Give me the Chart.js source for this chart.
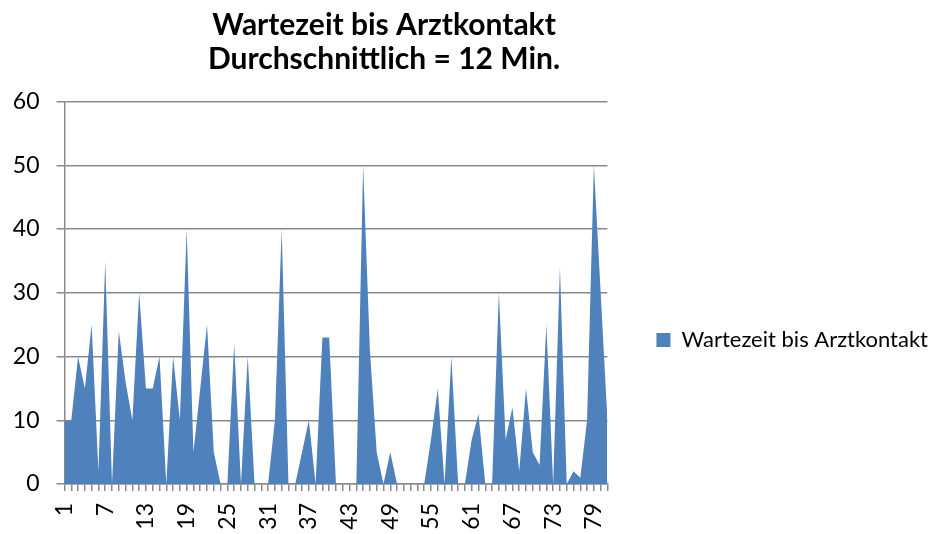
<!DOCTYPE html>
<html>
<head>
<meta charset="utf-8">
<script src="https://cdn.jsdelivr.net/npm/chart.js@4.4.1/dist/chart.umd.min.js"></script>
<style>
  html, body { margin: 0; padding: 0; background: #fff; }
  #wrap { width: 946px; height: 534px; position: relative; }
</style>
</head>
<body>
<div id="wrap"><canvas id="c"></canvas></div>
<script>
const categories = ['1','2','3','4','5','6','7','8','9','10','11','12','13','14','15','16','17','18','19','20',
  '21','22','23','24','25','26','27','28','29','30','31','32','33','34','35','36','37','38','39','40',
  '41','42','43','44','45','46','47','48','49','50','51','52','53','54','55','56','57','58','59','60',
  '61','62','63','64','65','66','67','68','69','70','71','72','73','74','75','76','77','78','79','80','81'];
const waitTimes = [10,10,20,15,25,2,35,0,24,16, 10,30,15,15,20,0,20,10,40,5,
  15,25,5,0,0,22,0,20,0,0, 0,10,40,0,0,5,10,0,23,23,
  0,0,0,0,50,21,5,0,5,0, 0,0,0,0,7,15,0,20,0,0,
  7,11,0,0,30,7,12,2,15,5, 3,25,0,34,0,2,1,10,50,30,10];
const tickLabels = ['1','7','13','19','25','31','37','43','49','55','61','67','73','79'];
const seriesName = 'Wartezeit bis Arztkontakt';
const titleLines = ['Wartezeit bis Arztkontakt', 'Durchschnittlich = 12 Min.'];

const layoutTweak = {
  id: 'layoutTweak',
  afterLayout(chart) {
    const t = chart.titleBlock;
    if (t) { t.left = 0; t.right = 768; }
    const l = chart.legend;
    if (l) { l.top = 680 - l.bottom; }
  }
};

const gridColor = '#8a8a8a';
new Chart(document.getElementById('c'), {
  type: 'line',
  data: {
    labels: categories,
    datasets: [{
      label: seriesName,
      data: waitTimes,
      backgroundColor: '#4F81BD',
      borderColor: '#4F81BD',
      borderWidth: 0,
      fill: 'origin',
      pointRadius: 0,
      tension: 0
    }]
  },
  options: {
    responsive: true,
    maintainAspectRatio: false,
    devicePixelRatio: 1,
    animation: false,
    layout: { padding: { top: 0, left: 0, right: 8, bottom: 0 } },
    plugins: {
      title: {
        display: true,
        text: titleLines,
        color: '#000',
        font: { family: 'Lato', size: 30, weight: 'bold', lineHeight: 1.11 },
        padding: { top: 9, bottom: 26 }
      },
      legend: {
        display: true,
        position: 'right',
        maxWidth: 420,
        labels: {
          boxWidth: 14,
          boxHeight: 14,
          padding: 49,
          color: '#000',
          font: { family: 'Lato', size: 22 }
        }
      },
      tooltip: { enabled: false }
    },
    scales: {
      x: {
        offset: false,
        grid: { display: true, drawOnChartArea: false, drawTicks: true, tickLength: 7, color: gridColor, lineWidth: 1.5 },
        border: { color: gridColor, width: 1.5 },
        ticks: {
          autoSkip: false,
          maxRotation: 90,
          minRotation: 90,
          padding: 12,
          color: '#000',
          font: { family: 'Lato', size: 23 },
          callback(v, i) { const l = categories[i]; return tickLabels.includes(l) ? l : ''; }
        },
        afterFit(s) { s.height = 50; }
      },
      y: {
        min: 0,
        max: 60,
        grid: { color: gridColor, lineWidth: 1.5, tickLength: 8, drawTicks: true },
        border: { color: gridColor, width: 1.5 },
        ticks: { stepSize: 10, padding: 17, color: '#000', font: { family: 'Lato', size: 23 } },
        afterFit(s) { s.width = 64.5; }
      }
    }
  },
  plugins: [layoutTweak]
});
</script>
</body>
</html>
